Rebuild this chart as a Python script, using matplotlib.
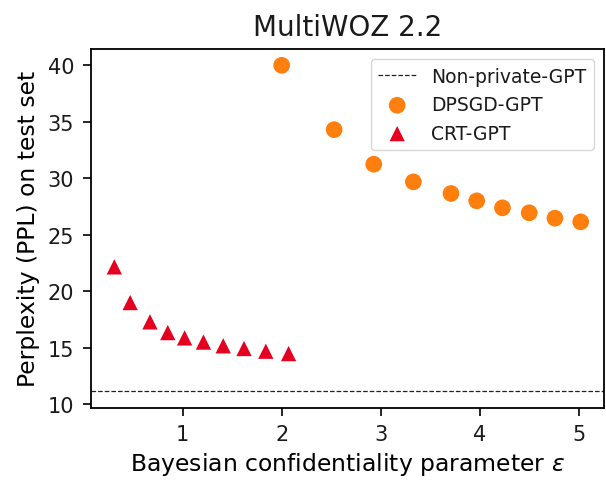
import numpy as np
import matplotlib
matplotlib.use("Agg")
import matplotlib.pyplot as plt

# values
nonprivate_ppl = 11.14

dpsgd_eps = [2.0, 2.53, 2.93, 3.33, 3.71, 3.97, 4.23, 4.50, 4.76, 5.02]
dpsgd_ppl = [40.0, 34.3, 31.24, 29.68, 28.65, 28.0, 27.38, 26.94, 26.46, 26.14]

crt_eps = [0.31, 0.47, 0.67, 0.85, 1.02, 1.21, 1.41, 1.62, 1.84, 2.07]
crt_ppl = [22.15, 18.99, 17.28, 16.33, 15.86, 15.49, 15.16, 14.92, 14.68, 14.47]

yticks = [10, 15, 20, 25, 30, 35, 40]
xticks = [1, 2, 3, 4, 5]

plt.rcParams["text.color"] = "#1a1a1a"
plt.rcParams["xtick.labelcolor"] = "#1a1a1a"
plt.rcParams["ytick.labelcolor"] = "#1a1a1a"

fig, ax = plt.subplots(figsize=(6.06, 4.81), dpi=100)
fig.subplots_adjust(left=91 / 606, right=604 / 606, top=1 - 50 / 481, bottom=1 - 408.5 / 481)

ax.axhline(nonprivate_ppl, color="#222222", linestyle="--", linewidth=0.9, label="Non-private-GPT")
ax.scatter(dpsgd_eps, dpsgd_ppl, s=144, color="#ff7f0e", edgecolor="none", label="DPSGD-GPT")
ax.scatter(crt_eps, crt_ppl, s=121, marker="^", color="#e6001f", edgecolor="none", label="CRT-GPT")

ax.set_xticks(xticks)
ax.set_yticks(yticks)
ax.tick_params(labelsize=15, length=6, width=1.2, pad=6)
for sp in ax.spines.values():
    sp.set_linewidth(1.3)

ax.set_title("MultiWOZ 2.2", fontsize=20, pad=10)
ax.set_xlabel("Bayesian confidentiality parameter $\\varepsilon$", fontsize=16.9)
ax.set_ylabel("Perplexity (PPL) on test set", fontsize=16.9, labelpad=6)

ax.legend(loc="upper right", fontsize=13.5, borderaxespad=0.55)

fig.savefig("out.png", dpi=100)
